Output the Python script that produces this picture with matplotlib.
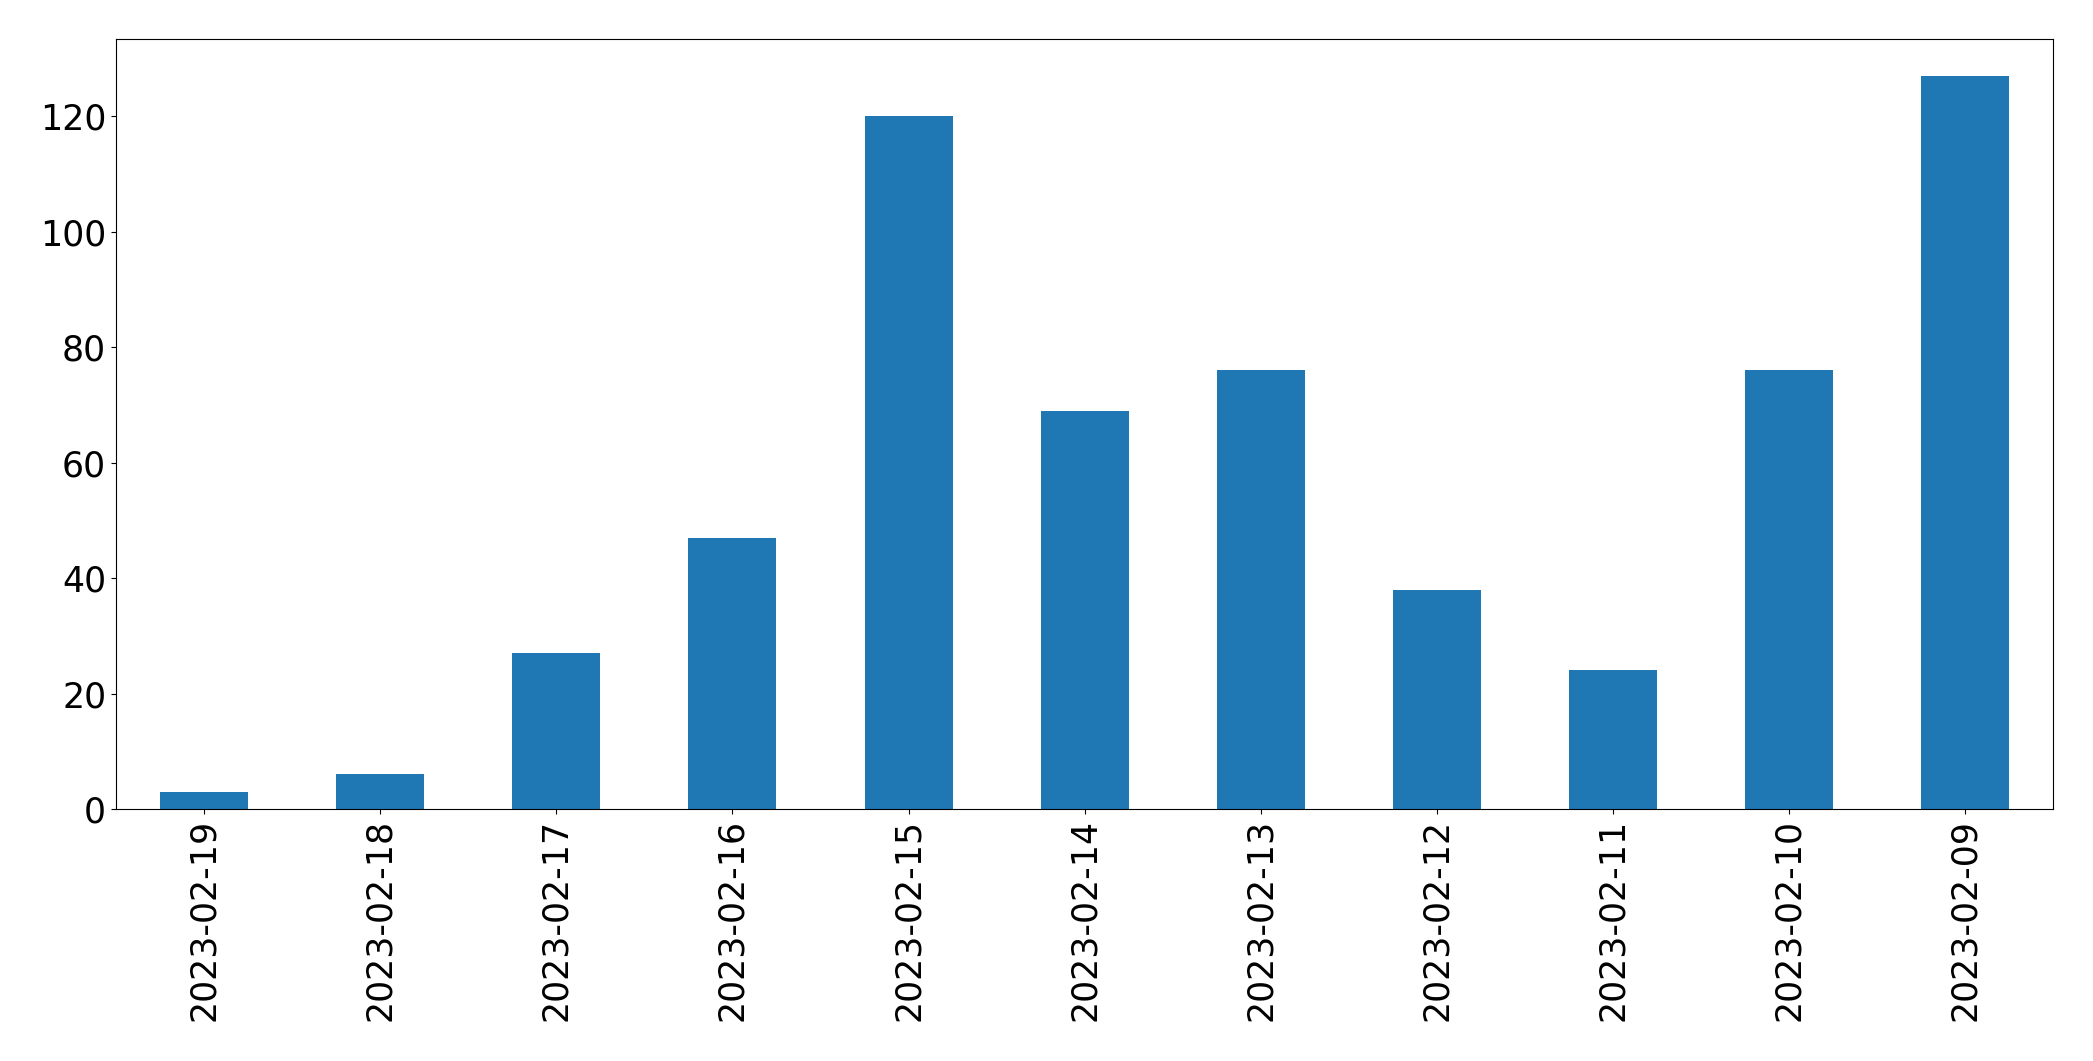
import matplotlib
matplotlib.use("Agg")
import matplotlib.pyplot as plt
import pandas as pd

dates = ["2023-02-19", "2023-02-18", "2023-02-17", "2023-02-16", "2023-02-15",
         "2023-02-14", "2023-02-13", "2023-02-12", "2023-02-11", "2023-02-10",
         "2023-02-09"]
counts = [3, 6, 27, 47, 120, 69, 76, 38, 24, 76, 127]

s = pd.Series(counts, index=dates)

fig = plt.figure(figsize=(20.93, 10.61), dpi=100)
ax = fig.add_axes([0.0554, 0.2375, 0.9257, 0.7257])
s.plot(kind="bar", ax=ax, color="#1f77b4")
ax.tick_params(labelsize=25)

fig.savefig("out.png", dpi=100)
